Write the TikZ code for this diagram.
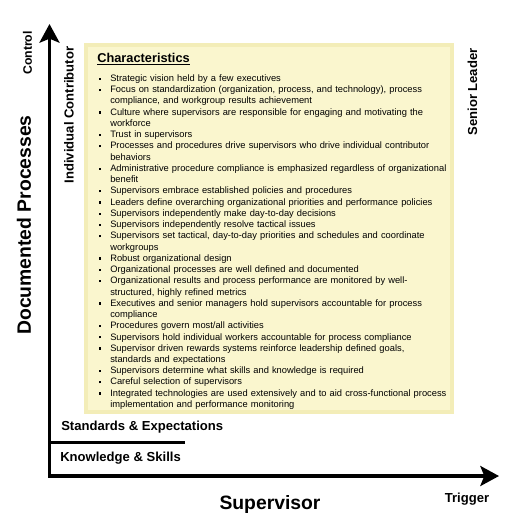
\documentclass[tikz,border=0pt]{standalone}
\usepackage{fontspec}
\setmainfont{Liberation Sans}
\usepackage{xcolor}
\usetikzlibrary{arrows.meta}

\definecolor{boxfill}{RGB}{250,246,206}
\definecolor{boxedge}{RGB}{243,237,184}

\newenvironment{charlist}{%
  \begin{list}{\raisebox{1.2pt}{\rule{1.7pt}{1.7pt}}}{%
    \setlength\leftmargin{9pt}\setlength\labelwidth{2pt}%
    \setlength\labelsep{6.6pt}\setlength\itemsep{0pt}%
    \setlength\parsep{0pt}\setlength\topsep{0pt}\setlength\partopsep{0pt}}}%
  {\end{list}}

\begin{document}
\begin{tikzpicture}[x=0.75pt,y=-0.75pt,>={Stealth[length=14pt,width=15pt,inset=3pt]}]

% Stili
\tikzset{axis/.style={line width=2.5pt,line join=miter},
  axislabel/.style={font=\bfseries\fontsize{9.8}{11}\selectfont,inner sep=0pt},
  biglabel/.style={font=\bfseries\fontsize{14.5}{16}\selectfont,inner sep=0pt},
  levellabel/.style={font=\bfseries\fontsize{9.8}{11}\selectfont,inner sep=0pt,anchor=west}}

\useasboundingbox[fill=white] (0,0) rectangle (525,525);

% --- Riquadro delle caratteristiche ---
\draw[fill=boxfill,draw=boxedge,line width=2.5pt] (86,45) rectangle (452,412);
\node[anchor=west,inner sep=0pt,font=\bfseries\fontsize{9.6}{11}\selectfont] (title) at (97,59) {\underline{Characteristics}};
\node[anchor=north west,inner sep=0pt,text width=270pt,align=left,
  font=\fontsize{7}{8.43}\selectfont] (items) at (98,70) {%
\begin{charlist}
\item Strategic vision held by a few executives
\item Focus on standardization (organization, process, and technology), process\newline compliance, and workgroup results achievement
\item Culture where supervisors are responsible for engaging and motivating the\newline workforce
\item Trust in supervisors
\item Processes and procedures drive supervisors who drive individual contributor\newline behaviors
\item Administrative procedure compliance is emphasized regardless of organizational\newline benefit
\item Supervisors embrace established policies and procedures
\item Leaders define overarching organizational priorities and performance policies
\item Supervisors independently make day-to-day decisions
\item Supervisors independently resolve tactical issues
\item Supervisors set tactical, day-to-day priorities and schedules and coordinate\newline workgroups
\item Robust organizational design
\item Organizational processes are well defined and documented
\item Organizational results and process performance are monitored by well-\newline structured, highly refined metrics
\item Executives and senior managers hold supervisors accountable for process\newline compliance
\item Procedures govern most/all activities
\item Supervisors hold individual workers accountable for process compliance
\item Supervisor driven rewards systems reinforce leadership defined goals,\newline standards and expectations
\item Supervisors determine what skills and knowledge is required
\item Careful selection of supervisors
\item Integrated technologies are used extensively and to aid cross-functional process\newline implementation and performance monitoring
\end{charlist}};

% --- Assi ---
\coordinate (origin) at (49.5,476);
\coordinate (ytip) at (49.5,24);
\coordinate (xtip) at (499,476);
\draw[axis,<->] (ytip) -- (origin) -- (xtip);

% Livelli in basso
\coordinate (sepstart) at (49.5,442.5);
\coordinate (sepend) at (185,442.5);
\draw[line width=1.6pt] (sepstart) -- (sepend);
\node[levellabel] (standards) at (61,427) {Standards \& Expectations};
\node[levellabel] (knowledge) at (60,458.5) {Knowledge \& Skills};

% Etichette verticali
\node[axislabel,rotate=90,font=\bfseries\fontsize{9.2}{10}\selectfont] (control) at (27.5,53) {Control};
\node[biglabel,rotate=90] (documented) at (24,225) {Documented Processes};
\node[axislabel,rotate=90] (contributor) at (69,115) {Individual Contributor};
\node[axislabel,rotate=90] (leader) at (472.5,92) {Senior Leader};

% Etichette orizzontali
\node[biglabel] (supervisor) at (270,504) {Supervisor};
\node[axislabel] (trigger) at (467,499) {Trigger};

\end{tikzpicture}
\end{document}
